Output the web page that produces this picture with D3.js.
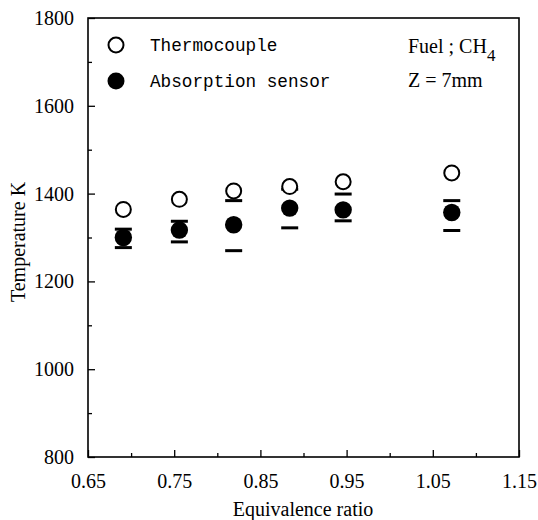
<!DOCTYPE html>
<html>
<head>
<meta charset="utf-8">
<script src="https://cdn.jsdelivr.net/npm/d3@7"></script>
<style>
  body { margin: 0; background: #fff; }
  svg { display: block; }
  .tick text { font-family: "Liberation Serif", "Times New Roman", serif; font-size: 20px; fill: #000; }
</style>
</head>
<body>
<svg id="chart" width="538" height="520"></svg>
<script>
// equivalence ratio of each measurement
const phi = [0.691, 0.756, 0.819, 0.884, 0.946, 1.072]
// thermocouple temperature (K)
const thermo = [1364, 1387, 1406, 1416, 1427, 1447]
// absorption sensor temperature (K) with error bar ends
const absorb = [1300, 1317, 1329, 1367, 1363, 1357]
const absorbHi = [1319, 1337, 1384, 1410, 1399, 1384]
const absorbLo = [1277, 1290, 1270, 1322, 1338, 1316]

const xTicks = [0.65, 0.75, 0.85, 0.95, 1.05, 1.15]
const xMinor = [0.70, 0.80, 0.90, 1.00, 1.10]
const yTicks = [800, 1000, 1200, 1400, 1600, 1800]
const yMinor = [900, 1100, 1300, 1500, 1700]

const legendNames = ['Thermocouple', 'Absorption sensor']

const plotL = 88, plotR = 519, plotT = 18, plotB = 457

const svg = d3.select('#chart')

const x = d3.scaleLinear().domain([0.65, 1.15]).range([plotL, plotR])
const y = d3.scaleLinear().domain([800, 1800]).range([plotB, plotT])

// bottom axis, ticks point inward
svg.append('g').attr('transform', `translate(0,${plotB})`)
  .call(d3.axisBottom(x).tickValues(xTicks).tickSize(-7).tickPadding(17).tickFormat(d3.format('.2f')))
svg.append('g').attr('transform', `translate(0,${plotB})`)
  .call(d3.axisBottom(x).tickValues(xMinor).tickSize(-4).tickFormat(''))

// left axis
svg.append('g').attr('transform', `translate(${plotL},0)`)
  .call(d3.axisLeft(y).tickValues(yTicks).tickSize(-7).tickPadding(14).tickFormat(d3.format('d')))
svg.append('g').attr('transform', `translate(${plotL},0)`)
  .call(d3.axisLeft(y).tickValues(yMinor).tickSize(-4).tickFormat(''))

svg.selectAll('.domain').remove()
svg.selectAll('.tick line').attr('stroke', '#000').attr('stroke-width', 1.3)

// frame
svg.append('rect')
  .attr('x', plotL).attr('y', plotT)
  .attr('width', plotR - plotL).attr('height', plotB - plotT)
  .attr('fill', 'none').attr('stroke', '#000').attr('stroke-width', 1.6)

// axis titles
svg.append('text')
  .attr('x', 303).attr('y', 516)
  .attr('text-anchor', 'middle')
  .style('font-family', '"Liberation Serif", serif').style('font-size', '20px')
  .text('Equivalence ratio')

svg.append('text')
  .attr('transform', 'translate(25,242) rotate(-90)')
  .attr('text-anchor', 'middle')
  .style('font-family', '"Liberation Serif", serif').style('font-size', '20px')
  .text('Temperature K')

const pts = phi.map((p, i) => ({p: p, t: thermo[i], a: absorb[i], hi: absorbHi[i], lo: absorbLo[i]}))

// error bar caps (absorption sensor)
const capW = 17
svg.selectAll('.cap-hi').data(pts).enter().append('line')
  .attr('x1', d => x(d.p) - capW / 2).attr('x2', d => x(d.p) + capW / 2)
  .attr('y1', d => y(d.hi)).attr('y2', d => y(d.hi))
  .attr('stroke', '#000').attr('stroke-width', 3)
svg.selectAll('.cap-lo').data(pts).enter().append('line')
  .attr('x1', d => x(d.p) - capW / 2).attr('x2', d => x(d.p) + capW / 2)
  .attr('y1', d => y(d.lo)).attr('y2', d => y(d.lo))
  .attr('stroke', '#000').attr('stroke-width', 3)

// thermocouple: open circles
svg.selectAll('.thermo').data(pts).enter().append('circle')
  .attr('cx', d => x(d.p)).attr('cy', d => y(d.t)).attr('r', 7.5)
  .attr('fill', '#fff').attr('stroke', '#000').attr('stroke-width', 2)

// absorption sensor: filled circles
svg.selectAll('.absorb').data(pts).enter().append('circle')
  .attr('cx', d => x(d.p)).attr('cy', d => y(d.a)).attr('r', 8.7)
  .attr('fill', '#000')

// legend
svg.append('circle').attr('cx', 116).attr('cy', 45).attr('r', 7.5)
  .attr('fill', '#fff').attr('stroke', '#000').attr('stroke-width', 2)
svg.append('circle').attr('cx', 116).attr('cy', 81).attr('r', 8.5)
  .attr('fill', '#000')
svg.selectAll('.legtext').data(legendNames).enter().append('text')
  .attr('x', 150).attr('y', (d, i) => 51 + i * 36)
  .style('font-family', '"Liberation Mono", monospace').style('font-size', '17.7px')
  .text(d => d)

// annotation
const note = svg.append('text').attr('x', 408).attr('y', 53)
  .style('font-family', '"Liberation Serif", serif').style('font-size', '20px')
note.append('tspan').text('Fuel ; CH')
note.append('tspan').attr('dy', 8).attr('font-size', '17px').text('4')
svg.append('text').attr('x', 408).attr('y', 87)
  .style('font-family', '"Liberation Serif", serif').style('font-size', '20px')
  .text('Z = 7mm')
</script>
</body>
</html>
